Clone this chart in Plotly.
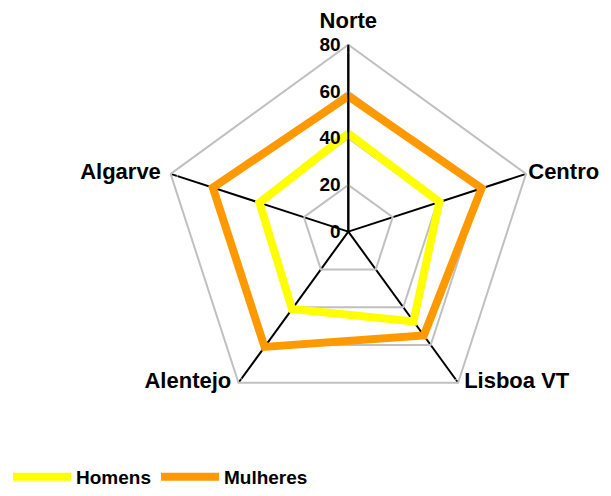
import plotly.graph_objects as go

categories = ["Norte", "Centro", "Lisboa VT", "Alentejo", "Algarve"]
homens = [42, 41, 47.5, 41, 40]
mulheres = [58, 60, 55, 61, 61]
radial_ticks = [0, 20, 40, 60, 80]
label_positions = ["top center", "middle right", "middle right", "middle left", "middle left"]
label_pad = [16, 2, 8, 10, 14]  # invisible marker sizes that push labels out

font_b = "Liberation Sans, Arial, sans-serif"

fig = go.Figure()
for name, vals, color in [("Homens", homens, "#ffff00"), ("Mulheres", mulheres, "#ff9900")]:
    fig.add_trace(go.Scatterpolar(
        r=vals + [vals[0]], theta=categories + [categories[0]],
        mode="lines", name=name,
        line=dict(color=color, width=8),
    ))

# category labels placed at the outer ring
fig.add_trace(go.Scatterpolar(
    r=[radial_ticks[-1]] * len(categories), theta=categories,
    mode="markers+text", text=categories, textposition=label_positions,
    marker=dict(size=label_pad, color="rgba(0,0,0,0)"),
    textfont=dict(size=22, family=font_b, weight="bold", color="black"),
    showlegend=False, cliponaxis=False, hoverinfo="skip",
))

# the page body adds an 8px margin, so the figure is sized to the visible area
W, H = 603, 488
fig.update_layout(
    width=W, height=H,
    margin=dict(l=0, r=0, t=0, b=0),
    paper_bgcolor="white",
    plot_bgcolor="white",
    font=dict(family=font_b, color="black"),
    showlegend=True,
    legend=dict(orientation="h", x=-0.005, y=-0.006, xanchor="left", yanchor="bottom",
                font=dict(size=19, family=font_b, weight="bold"),
                itemwidth=58, tracegroupgap=0),
    polar=dict(
        domain=dict(x=[151 / W, 527 / W], y=[1 - 413 / H, 1 - 37 / H]),
        bgcolor="white",
        gridshape="linear",
        radialaxis=dict(range=[0, 80], tickvals=radial_ticks, angle=90, tickangle=90,
                        side="counterclockwise",
                        showline=True, linecolor="black", linewidth=2,
                        gridcolor="#c0c0c0", gridwidth=2,
                        ticks="", tickfont=dict(size=19, family=font_b, weight="bold")),
        angularaxis=dict(direction="clockwise", rotation=90,
                         showline=True, linecolor="#c0c0c0", linewidth=2,
                         gridcolor="black", gridwidth=2, ticks="",
                         showticklabels=False),
    ),
)
fig.write_html("out.html")
